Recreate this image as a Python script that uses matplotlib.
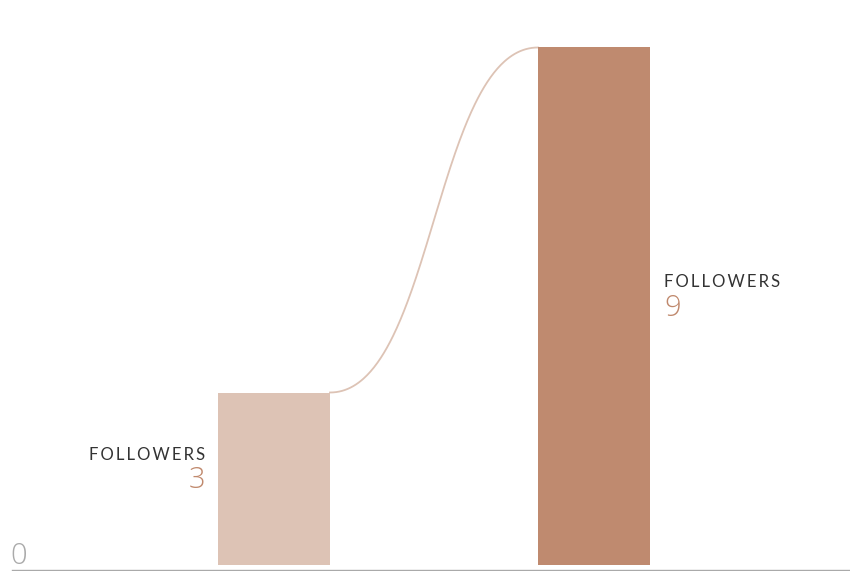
import numpy as np
from matplotlib import pyplot as plt

categories = ["FOLLOWERS", "FOLLOWERS"]
values = [3, 9]
bar_colors = ["#DDC3B5", "#BF8A6F"]

fig = plt.figure(figsize=(8.5, 5.71), dpi=100)
ax = fig.add_axes([0, 0, 1, 1])
ax.set_xlim(-0.85625, 1.8)
ax.set_ylim(-6 / 57.5, 565 / 57.5)
ax.axis("off")

x = np.arange(len(values))
width = 0.35
ax.bar(x, values, width=width, color=bar_colors, zorder=2)

# s-shaped connector from top of first bar to top of second
x0, x1 = x[0] + width / 2, x[1] - width / 2
y0, y1 = values[0], values[1]
xm = (x0 + x1) / 2
t = np.linspace(0, 1, 200)
bx = (1 - t)**3 * x0 + 3 * (1 - t)**2 * t * xm + 3 * (1 - t) * t**2 * xm + t**3 * x1
by = (1 - t)**3 * y0 + 3 * (1 - t)**2 * t * y0 + 3 * (1 - t) * t**2 * y1 + t**3 * y1
ax.plot(bx, by, color="#DDC3B5", lw=1.3, zorder=1)

# baseline
ax.axhline(-5 / 57.5, xmin=12 / 850, xmax=1, color="#aaaaaa", lw=1)
ax.text(-0.85625 + 10 / 320, -0.1, "0", fontsize=21, family="Open Sans", fontweight="light",
        color="#aaaaaa", ha="left", va="bottom")

spaced = lambda s: "\u2009".join(s)

# labels: left bar -> labels on left, right bar -> labels on right
for i, (cat, v) in enumerate(zip(categories, values)):
    if i == 0:
        lx, ha = x[i] - width / 2 - 13 / 320, "right"
    else:
        lx, ha = x[i] + width / 2 + 14 / 320, "left"
    ax.text(lx, v / 2 + 24 / 57.5, spaced(cat), fontsize=12, family=["Lato", "DejaVu Sans"],
            color="#333333", ha=ha, va="center")
    ax.text(lx, v / 2 - 0.03, str(v), fontsize=21, family="Open Sans", fontweight="light",
            color="#C0896D", ha=ha, va="center")

fig.savefig("out.png", dpi=100)
